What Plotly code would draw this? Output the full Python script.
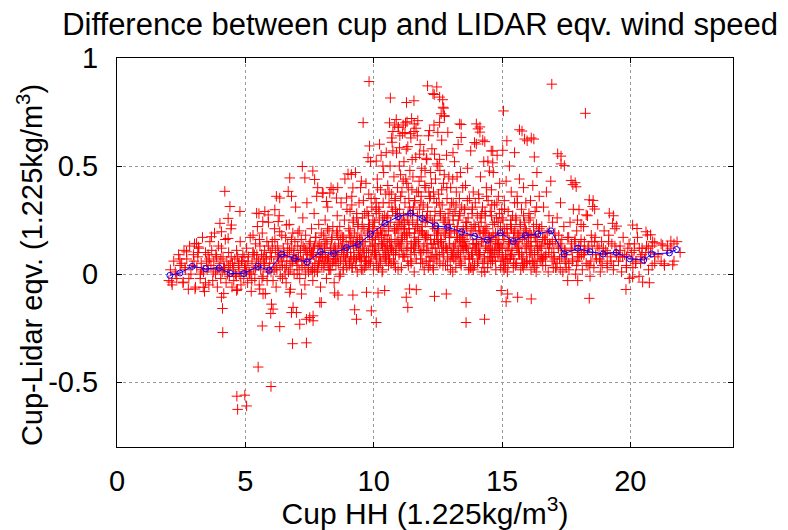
import plotly.graph_objects as go

# ---- binned mean (blue line) ----
mean_x = [2.06, 2.45, 2.93, 3.45, 3.98, 4.42, 4.94, 5.49, 5.93, 6.42, 6.91, 7.41, 7.93, 8.44, 8.94,
          9.40, 9.88, 10.44, 10.95, 11.44, 11.89, 12.42, 12.89, 13.43, 13.94, 14.43, 14.94, 15.44,
          15.91, 16.40, 16.91, 17.42, 17.95, 18.43, 18.94, 19.45, 19.97, 20.52, 20.83, 21.52, 21.80]
mean_y = [-0.006, 0.005, 0.036, 0.025, 0.028, 0.003, 0.003, 0.036, 0.017, 0.093, 0.073, 0.056, 0.104,
          0.095, 0.123, 0.137, 0.185, 0.235, 0.266, 0.282, 0.257, 0.223, 0.217, 0.195, 0.175, 0.157,
          0.191, 0.151, 0.179, 0.186, 0.200, 0.093, 0.120, 0.103, 0.093, 0.100, 0.071, 0.065, 0.093,
          0.098, 0.114]

# ---- scatter: main cloud ----
cloud_x = [
    2.02, 2.08, 2.15, 2.21, 2.27, 2.33, 2.40, 2.46,
    2.52, 2.57, 2.61, 2.66, 2.72, 2.78, 2.83, 2.88, 2.93, 2.98,
    3.02, 3.06, 3.11, 3.15, 3.19, 3.24, 3.28, 3.33, 3.37, 3.41, 3.45, 3.49,
    3.51, 3.55, 3.58, 3.62, 3.66, 3.69, 3.73, 3.77, 3.80, 3.84, 3.88, 3.91, 3.95, 3.98,
    4.01, 4.04, 4.07, 4.10, 4.13, 4.16, 4.19, 4.22, 4.25, 4.28, 4.31, 4.35, 4.38, 4.41, 4.44, 4.48,
    4.52, 4.55, 4.59, 4.62, 4.66, 4.69, 4.73, 4.76, 4.80, 4.83, 4.87, 4.90, 4.94, 4.97,
    5.02, 5.05, 5.09, 5.12, 5.16, 5.19, 5.23, 5.26, 5.30, 5.33, 5.37, 5.40, 5.44, 5.47,
    5.51, 5.54, 5.57, 5.60, 5.63, 5.66, 5.69, 5.72, 5.75, 5.78, 5.81, 5.84, 5.87, 5.90, 5.93, 5.97,
    6.02, 6.05, 6.08, 6.11, 6.14, 6.17, 6.20, 6.23, 6.26, 6.29, 6.32, 6.36, 6.39, 6.42, 6.45, 6.48,
    6.51, 6.54, 6.57, 6.59, 6.62, 6.65, 6.68, 6.71, 6.74, 6.76, 6.79, 6.82, 6.85, 6.88, 6.90, 6.93, 6.96, 6.99,
    7.01, 7.04, 7.07, 7.10, 7.12, 7.15, 7.18, 7.21, 7.24, 7.26, 7.29, 7.32, 7.35, 7.38, 7.40, 7.43, 7.46, 7.49,
    7.51, 7.53, 7.56, 7.58, 7.61, 7.63, 7.66, 7.68, 7.71, 7.73, 7.76, 7.78, 7.81, 7.83, 7.86, 7.88, 7.91, 7.93, 7.96, 7.98,
    8.01, 8.04, 8.06, 8.09, 8.11, 8.14, 8.16, 8.19, 8.21, 8.24, 8.26, 8.29, 8.31, 8.34, 8.36, 8.39, 8.41, 8.44, 8.46, 8.49,
    8.51, 8.53, 8.56, 8.58, 8.61, 8.63, 8.66, 8.68, 8.71, 8.73, 8.76, 8.78, 8.81, 8.83, 8.86, 8.88, 8.91, 8.93, 8.96, 8.98,
    9.01, 9.03, 9.06, 9.08, 9.10, 9.12, 9.15, 9.17, 9.20, 9.22, 9.24, 9.26, 9.29, 9.31, 9.34, 9.36, 9.38, 9.40, 9.43, 9.45, 9.47, 9.49,
    9.51, 9.53, 9.56, 9.58, 9.60, 9.62, 9.65, 9.67, 9.70, 9.72, 9.74, 9.76, 9.79, 9.81, 9.84, 9.86, 9.88, 9.90, 9.93, 9.95, 9.97, 9.99,
    10.01, 10.03, 10.05, 10.07, 10.10, 10.12, 10.14, 10.16, 10.18, 10.20, 10.22, 10.24, 10.27, 10.29, 10.31, 10.33, 10.35, 10.37, 10.39, 10.41, 10.43, 10.45, 10.47, 10.49,
    10.51, 10.53, 10.55, 10.57, 10.60, 10.62, 10.64, 10.66, 10.68, 10.70, 10.72, 10.74, 10.77, 10.79, 10.81, 10.83, 10.85, 10.87, 10.89, 10.91, 10.93, 10.95, 10.97, 10.99,
    11.01, 11.03, 11.05, 11.07, 11.10, 11.12, 11.14, 11.16, 11.18, 11.20, 11.22, 11.24, 11.27, 11.29, 11.31, 11.33, 11.35, 11.37, 11.39, 11.41, 11.43, 11.45, 11.47, 11.49,
    11.51, 11.53, 11.55, 11.57, 11.60, 11.62, 11.64, 11.66, 11.68, 11.70, 11.72, 11.74, 11.77, 11.79, 11.81, 11.83, 11.85, 11.87, 11.89, 11.91, 11.93, 11.95, 11.97, 11.99,
    12.01, 12.03, 12.05, 12.07, 12.10, 12.12, 12.14, 12.16, 12.18, 12.20, 12.22, 12.24, 12.27, 12.29, 12.31, 12.33, 12.35, 12.37, 12.39, 12.41, 12.43, 12.45, 12.47, 12.49,
    12.51, 12.53, 12.56, 12.58, 12.60, 12.62, 12.65, 12.67, 12.70, 12.72, 12.74, 12.76, 12.79, 12.81, 12.84, 12.86, 12.88, 12.90, 12.93, 12.95, 12.97, 12.99,
    13.01, 13.03, 13.06, 13.08, 13.10, 13.12, 13.15, 13.17, 13.20, 13.22, 13.24, 13.26, 13.29, 13.31, 13.34, 13.36, 13.38, 13.40, 13.43, 13.45, 13.47, 13.49,
    13.51, 13.53, 13.56, 13.58, 13.61, 13.63, 13.66, 13.68, 13.71, 13.73, 13.76, 13.78, 13.81, 13.83, 13.86, 13.88, 13.91, 13.93, 13.96, 13.98,
    14.01, 14.04, 14.06, 14.09, 14.11, 14.14, 14.16, 14.19, 14.21, 14.24, 14.26, 14.29, 14.31, 14.34, 14.36, 14.39, 14.41, 14.44, 14.46, 14.49,
    14.51, 14.54, 14.56, 14.59, 14.61, 14.64, 14.66, 14.69, 14.71, 14.74, 14.76, 14.79, 14.81, 14.84, 14.86, 14.89, 14.91, 14.94, 14.96, 14.99,
    15.01, 15.04, 15.06, 15.09, 15.11, 15.14, 15.16, 15.19, 15.21, 15.24, 15.26, 15.29, 15.31, 15.34, 15.36, 15.39, 15.41, 15.44, 15.46, 15.49,
    15.51, 15.54, 15.57, 15.59, 15.62, 15.65, 15.68, 15.71, 15.73, 15.76, 15.79, 15.82, 15.84, 15.87, 15.90, 15.93, 15.95, 15.98,
    16.02, 16.05, 16.08, 16.11, 16.14, 16.17, 16.20, 16.23, 16.26, 16.29, 16.32, 16.36, 16.39, 16.42, 16.45, 16.48,
    16.52, 16.55, 16.59, 16.62, 16.66, 16.69, 16.73, 16.76, 16.80, 16.83, 16.87, 16.90, 16.94, 16.97,
    17.02, 17.06, 17.11, 17.15, 17.19, 17.24, 17.28, 17.33, 17.37, 17.41, 17.45, 17.49,
    17.52, 17.56, 17.61, 17.65, 17.69, 17.74, 17.78, 17.83, 17.87, 17.91, 17.95, 17.99,
    18.03, 18.08, 18.13, 18.18, 18.23, 18.28, 18.33, 18.38, 18.43, 18.48,
    18.53, 18.58, 18.63, 18.68, 18.73, 18.78, 18.83, 18.88, 18.93, 18.98,
    19.04, 19.10, 19.16, 19.22, 19.28, 19.34, 19.40, 19.46,
    19.54, 19.60, 19.66, 19.72, 19.78, 19.84, 19.90, 19.96,
    20.04, 20.10, 20.16, 20.22, 20.28, 20.34, 20.40, 20.46,
    20.55, 20.63, 20.71, 20.79, 20.87, 20.95,
    21.08, 21.20, 21.33, 21.45,
    21.58, 21.70, 21.82, 21.94,
]
cloud_y = [
    -0.03, 0.02, -0.05, 0.06, 0.01, -0.02, 0.09, 0.04,
    0.05, -0.04, 0.11, 0.02, 0.07, -0.07, 0.13, 0.00, 0.04, 0.09,
    0.14, -0.06, 0.03, 0.08, 0.12, -0.02, 0.05, 0.17, 0.01, -0.08, 0.10, 0.06,
    0.02, 0.09, -0.05, 0.15, 0.04, 0.11, -0.03, 0.06, 0.19, 0.00, 0.08, -0.06, 0.13, 0.03,
    0.05, -0.02, 0.12, 0.01, 0.08, -0.09, 0.03, 0.16, -0.04, 0.06, 0.00, 0.10, -0.01, 0.04, 0.21, -0.06,
    0.02, -0.03, 0.07, 0.00, 0.11, -0.07, 0.04, 0.01, 0.15, -0.05, 0.06, 0.09, -0.02, 0.03,
    0.04, 0.12, -0.04, 0.08, 0.00, 0.17, -0.08, 0.05, 0.10, 0.02, -0.02, 0.14, 0.07, 0.22,
    0.06, -0.05, 0.13, 0.02, 0.09, 0.19, -0.01, 0.04, 0.11, -0.09, 0.07, 0.15, 0.01, 0.24, 0.03, 0.10,
    0.08, 0.15, -0.03, 0.05, 0.21, 0.11, -0.06, 0.02, 0.13, 0.07, 0.27, -0.01, 0.09, 0.18, 0.04, 0.12,
    0.10, 0.03, 0.17, -0.04, 0.08, 0.14, 0.01, 0.23, 0.06, -0.07, 0.12, 0.05, 0.19, 0.09, 0.00, 0.15, 0.31, 0.07,
    0.04, 0.13, 0.08, 0.20, -0.02, 0.10, 0.16, 0.03, 0.26, 0.07, 0.12, -0.05, 0.18, 0.06, 0.33, 0.09, 0.01, 0.14,
    0.07, 0.15, 0.02, 0.21, 0.10, -0.03, 0.12, 0.28, 0.05, 0.17, 0.08, 0.36, 0.01, 0.13, 0.23, 0.06, 0.10, -0.06, 0.19, 0.04,
    0.09, 0.18, 0.03, 0.12, 0.25, 0.06, -0.02, 0.14, 0.31, 0.08, 0.20, 0.02, 0.11, 0.40, 0.16, 0.05, 0.22, 0.09, -0.04, 0.13,
    0.11, 0.04, 0.19, 0.27, 0.08, 0.14, -0.01, 0.22, 0.06, 0.33, 0.12, 0.17, 0.02, 0.09, 0.25, 0.44, 0.07, 0.15, 0.30, 0.10,
    0.13, 0.21, 0.05, 0.29, 0.10, 0.17, 0.36, 0.03, 0.24, 0.12, 0.08, 0.19, 0.47, 0.14, 0.28, 0.01, 0.22, 0.09, 0.33, 0.16, 0.06, 0.40,
    0.18, 0.07, 0.26, 0.12, 0.34, 0.21, 0.03, 0.15, 0.42, 0.10, 0.29, 0.19, 0.05, 0.37, 0.23, 0.13, 0.52, 0.08, 0.31, 0.17, 0.25, 0.02,
    0.22, 0.10, 0.35, 0.16, 0.28, 0.04, 0.44, 0.19, 0.12, 0.31, 0.25, 0.08, 0.39, 0.55, 0.14, 0.21, 0.02, 0.33, 0.47, 0.18, 0.27, 0.11, 0.37, 0.06,
    0.26, 0.13, 0.41, 0.20, 0.33, 0.07, 0.50, 0.24, 0.16, 0.37, 0.61, 0.29, 0.10, 0.45, 0.21, 0.34, 0.03, 0.27, 0.56, 0.15, 0.40, 0.23, 0.68, 0.09,
    0.30, 0.14, 0.46, 0.22, 0.38, 0.65, 0.08, 0.27, 0.52, 0.18, 0.33, 0.70, 0.11, 0.42, 0.25, 0.59, 0.04, 0.35, 0.19, 0.48, 0.28, 0.63, 0.12, 0.39,
    0.28, 0.45, 0.12, 0.66, 0.34, 0.21, 0.54, 0.07, 0.38, 0.25, 0.71, 0.16, 0.43, 0.30, 0.60, 0.10, 0.36, 0.49, 0.22, 0.05, 0.32, 0.57, 0.18, 0.41,
    0.24, 0.40, 0.11, 0.53, 0.31, 0.18, 0.64, 0.06, 0.35, 0.27, 0.47, 0.14, 0.58, 0.22, 0.03, 0.38, 0.69, 0.16, 0.29, 0.44, 0.09, 0.33, 0.51, 0.20,
    0.21, 0.37, 0.09, 0.48, 0.28, 0.15, 0.62, 0.32, 0.04, 0.42, 0.19, 0.73, 0.26, 0.12, 0.55, 0.35, 0.07, 0.23, 0.45, 0.17, 0.30, 0.02,
    0.19, 0.33, 0.08, 0.44, 0.25, 0.13, 0.52, 0.29, 0.03, 0.38, 0.17, 0.22, 0.60, 0.10, 0.35, 0.27, 0.47, 0.05, 0.31, 0.15, 0.40, 0.21,
    0.16, 0.30, 0.07, 0.41, 0.22, 0.12, 0.49, 0.26, 0.02, 0.35, 0.18, 0.57, 0.09, 0.28, 0.14, 0.38, 0.23, 0.04, 0.33, 0.11,
    0.14, 0.27, 0.06, 0.37, 0.20, 0.10, 0.45, 0.24, 0.01, 0.31, 0.16, 0.52, 0.08, 0.29, 0.12, 0.40, 0.21, 0.03, 0.34, 0.18,
    0.17, 0.29, 0.05, 0.39, 0.11, 0.23, 0.47, 0.08, 0.32, 0.14, 0.02, 0.26, 0.55, 0.19, 0.36, 0.10, 0.42, 0.22, 0.06, 0.30,
    0.12, 0.25, 0.04, 0.34, 0.18, 0.09, 0.43, 0.21, 0.01, 0.29, 0.15, 0.50, 0.07, 0.23, 0.38, 0.11, 0.27, 0.03, 0.19, 0.33,
    0.14, 0.26, 0.05, 0.36, 0.19, 0.10, 0.44, 0.22, 0.02, 0.30, 0.16, 0.08, 0.40, 0.24, 0.12, 0.33, 0.20, 0.06,
    0.13, 0.25, 0.06, 0.34, 0.18, 0.09, 0.41, 0.22, 0.03, 0.29, 0.15, 0.47, 0.11, 0.20, 0.36, 0.07,
    0.12, 0.22, 0.04, 0.31, 0.16, 0.08, 0.38, 0.19, 0.01, 0.27, 0.14, 0.43, 0.10, 0.24,
    0.10, 0.19, 0.03, 0.26, 0.13, 0.07, 0.33, 0.16, 0.01, 0.22, 0.11, 0.05,
    0.09, 0.17, 0.02, 0.24, 0.12, 0.06, 0.30, 0.15, 0.00, 0.20, 0.10, 0.13,
    0.08, 0.16, 0.02, 0.22, 0.11, 0.05, 0.27, 0.13, -0.01, 0.18,
    0.10, 0.03, 0.17, 0.07, 0.23, 0.12, 0.01, 0.15, 0.09, 0.20,
    0.11, 0.05, 0.18, 0.08, 0.14, 0.02, 0.21, 0.09,
    0.06, 0.13, 0.01, 0.17, 0.09, 0.04, 0.12, -0.02,
    0.10, 0.03, 0.14, 0.06, 0.17, -0.01, 0.08, 0.12,
    0.07, 0.13, 0.02, 0.10, 0.15, 0.05,
    0.09, 0.14, 0.04, 0.11,
    0.12, 0.06, 0.15, 0.10,
]

# ---- scatter: extra points in the dense core ----
core_x = [
    7.05, 7.35, 7.62, 7.88, 8.12, 8.38, 8.62, 8.85, 9.08, 9.33,
    9.57, 9.80, 10.04, 10.26, 10.48, 10.71, 10.93, 11.15, 11.38, 11.60,
    11.83, 12.06, 12.28, 12.51, 12.73, 12.96, 13.18, 13.41, 13.64, 13.86,
    14.09, 14.32, 14.55, 14.77, 15.00, 15.23, 15.45, 15.68, 15.91, 16.14,
    16.36, 16.59, 16.82, 17.05, 17.27, 17.50, 17.73, 17.96, 18.19, 18.42,
    9.15, 9.42, 9.68, 9.94, 10.19, 10.44, 10.68, 10.95, 11.21, 11.46,
    11.72, 11.97, 12.22, 12.47, 12.72, 12.98, 13.24, 13.49, 13.74, 14.00,
    14.25, 14.50, 14.75, 15.01, 15.27, 15.52, 15.77, 16.03, 16.28, 16.53,
    8.25, 8.52, 8.78, 10.08, 10.33, 10.58, 10.83, 11.08, 11.33, 11.58,
    11.88, 12.13, 12.38, 12.63, 12.88, 13.13, 13.38, 13.63, 13.88, 14.13,
    14.38, 14.63, 14.88, 15.13, 15.38, 15.63, 15.88, 16.13, 16.38, 16.63,
    4.55, 4.85, 5.15, 5.45, 5.75, 6.05, 6.35, 6.65, 6.95, 7.25,
    7.55, 7.85, 8.15, 8.45, 8.75, 9.05, 9.35, 9.65, 9.95, 10.25,
    10.55, 10.85, 11.15, 11.45, 11.75, 12.05, 12.35, 12.65, 12.95, 13.25,
    13.55, 13.85, 14.15, 14.45, 14.75, 15.05, 15.35, 15.65, 15.95, 16.25,
    16.55, 16.85, 17.15, 17.45, 17.75, 18.05, 18.35, 18.65, 18.95, 19.25,
    4.70, 5.00, 5.30, 5.60, 5.90, 6.20, 6.50, 6.80, 7.10, 7.40,
    7.70, 8.00, 8.30, 8.60, 8.90, 9.20, 9.50, 9.80, 10.10, 10.40,
    10.70, 11.00, 11.30, 11.60, 11.90, 12.20, 12.50, 12.80, 13.10, 13.40,
    13.70, 14.00, 14.30, 14.60, 14.90, 15.20, 15.50, 15.80, 16.10, 16.40,
    16.70, 17.00, 17.30, 17.60, 17.90, 18.20, 18.50, 18.80, 19.10, 19.40,
    9.12, 9.37, 9.63, 9.88, 10.13, 10.37, 10.62, 10.87, 11.12, 11.37,
    11.62, 11.87, 12.12, 12.37, 12.62, 12.87, 13.12, 13.37, 13.62, 13.87,
    14.12, 14.37, 14.62, 14.87, 15.12, 15.37, 15.62, 15.87, 16.12, 16.37,
    10.02, 10.27, 10.52, 10.77, 11.02, 11.27, 11.52, 11.77, 12.02, 12.27,
    12.52, 12.77, 13.02, 13.27, 13.52, 13.77, 14.02, 14.27, 14.52, 14.77,
    15.02, 15.27, 15.52, 15.77, 16.02, 16.27, 16.52, 16.77, 17.02, 17.27,
    5.22, 5.52, 5.82, 6.12, 6.42, 6.72, 7.02, 7.32, 7.62, 7.92,
    8.22, 8.52, 8.82, 9.22, 9.52, 9.82, 19.60, 19.85, 20.15, 20.40,
    8.07, 8.33, 8.58, 8.84, 9.09, 9.34, 9.59, 9.84, 10.09, 10.34,
    10.59, 10.84, 11.09, 11.34, 11.59, 11.84, 12.09, 12.34, 12.59, 12.84,
    13.09, 13.34, 13.59, 13.84, 14.09, 14.34, 14.59, 14.84, 15.09, 15.34,
    15.59, 15.84, 16.09, 16.34, 16.59, 16.84, 17.09, 8.20, 8.45, 8.70,
    8.95, 9.21, 9.46, 9.71, 9.96, 10.21, 10.46, 10.71, 10.96, 11.21,
    11.46, 11.71, 11.96, 12.21, 12.46, 12.71, 12.96, 13.21, 13.46, 13.71,
    13.96, 14.21, 14.46, 14.71, 14.96, 15.21, 15.46, 15.71, 15.96, 16.21,
    16.46, 16.71, 16.96, 17.21, 17.46, 17.71, 17.96, 18.21, 18.46, 18.71,
    9.05, 9.30, 9.55, 9.80, 10.05, 10.30, 10.55, 10.80, 11.05, 11.30,
    11.55, 11.80, 12.05, 12.30, 12.55, 12.80, 13.05, 13.30, 13.55, 13.80,
    14.05, 14.30, 14.55, 14.80, 15.05, 15.30, 15.55, 15.80, 16.05, 16.30,
    10.15, 10.40, 10.65, 10.90, 11.15, 11.40, 11.65, 11.90, 12.15, 12.40,
    12.65, 12.90, 13.15, 13.40, 13.65, 13.90, 14.15, 14.40, 14.65, 14.90,
    2.30, 2.65, 3.00, 3.30, 3.60, 3.90, 4.20, 4.50, 4.80, 5.10,
    5.40, 5.70, 6.00, 6.30, 6.60, 6.90, 7.20, 7.50, 7.80, 8.10,
    2.45, 2.80, 3.15, 3.45, 3.75, 4.05, 4.35, 4.65, 4.95, 5.25,
    5.55, 5.85, 6.15, 6.45, 6.75, 7.05, 7.35, 7.65, 7.95, 18.90,
    19.15, 19.45, 19.70, 19.95, 20.20, 20.45, 20.70, 20.95, 21.20, 21.45,
    7.58, 7.83, 8.08, 8.33, 8.58, 8.83, 9.08, 9.33, 9.58, 9.83,
    10.08, 10.33, 10.58, 10.83, 11.08, 11.33, 11.58, 11.83, 12.08, 12.33,
    12.58, 12.83, 13.08, 13.33, 13.58, 13.83, 14.08, 14.33, 14.58, 14.83,
    15.08, 15.33, 15.58, 15.83, 16.08, 16.33, 16.58, 16.83, 17.08, 17.33,
    7.70, 7.95, 8.20, 8.45, 8.70, 8.95, 9.20, 9.45, 9.70, 9.95,
    10.20, 10.45, 10.70, 10.95, 11.20, 11.45, 11.70, 11.95, 12.20, 12.45,
    12.70, 12.95, 13.20, 13.45, 13.70, 13.95, 14.20, 14.45, 14.70, 14.95,
    15.20, 15.45, 15.70, 15.95, 16.20, 16.45, 16.70, 16.95, 17.20, 17.45,
    10.10, 10.35, 10.60, 10.85, 11.10, 11.35, 11.60, 11.85, 12.10, 12.35,
    12.60, 12.85, 13.10, 13.35, 13.60, 13.85, 14.10, 14.35, 14.60, 14.85,
    9.15, 9.40, 9.65, 9.90, 15.10, 15.35, 15.60, 15.85, 16.10, 16.35,
    5.05, 5.35, 5.65, 5.95, 6.25, 6.55, 6.85, 7.15, 7.45, 7.75,
    3.25, 3.55, 3.85, 4.15, 4.45, 4.75, 17.60, 17.85, 18.10, 18.35,
    18.60, 18.85, 19.10, 19.35, 19.60, 19.85, 20.10, 20.35, 20.60, 20.85,
    11.00, 11.25, 11.50, 11.75, 12.00, 12.25, 12.50, 12.75, 13.00, 13.25,
]
core_y = [
    0.06, 0.11, 0.03, 0.14, 0.08, 0.17, 0.05, 0.12, 0.20, 0.07,
    0.15, 0.10, 0.24, 0.06, 0.18, 0.13, 0.28, 0.09, 0.21, 0.15,
    0.05, 0.26, 0.12, 0.19, 0.08, 0.23, 0.14, 0.04, 0.18, 0.10,
    0.22, 0.07, 0.15, 0.11, 0.26, 0.05, 0.17, 0.09, 0.21, 0.13,
    0.04, 0.16, 0.10, 0.07, 0.14, 0.03, 0.11, 0.06, 0.09, 0.04,
    0.03, 0.11, 0.06, 0.16, 0.03, 0.12, 0.05, 0.19, 0.08, 0.14,
    0.22, 0.02, 0.16, 0.09, 0.13, 0.06, 0.20, 0.11, 0.07, 0.16,
    0.05, 0.12, 0.19, 0.08, 0.14, 0.04, 0.10, 0.17, 0.06, 0.13,
    0.02, 0.07, 0.13, 0.09, 0.14, 0.04, 0.20, 0.12, 0.06, 0.17,
    0.10, 0.03, 0.21, 0.15, 0.04, 0.11, 0.08, 0.24, 0.02, 0.09,
    0.13, 0.06, 0.16, 0.03, 0.09, 0.18, 0.05, 0.02, 0.12, 0.08,
    0.03, 0.06, 0.01, 0.09, 0.05, 0.12, 0.04, 0.10, 0.07, 0.13,
    0.09, 0.05, 0.15, 0.07, 0.11, 0.04, 0.17, 0.08, 0.13, 0.05,
    0.16, 0.09, 0.21, 0.06, 0.14, 0.18, 0.07, 0.12, 0.20, 0.09,
    0.15, 0.07, 0.19, 0.11, 0.06, 0.16, 0.09, 0.13, 0.05, 0.18,
    0.08, 0.14, 0.05, 0.11, 0.07, 0.13, 0.04, 0.09, 0.12, 0.06,
    0.08, 0.02, 0.10, 0.05, 0.13, 0.03, 0.08, 0.16, 0.02, 0.10,
    0.13, 0.08, 0.04, 0.18, 0.06, 0.14, 0.10, 0.22, 0.07, 0.15,
    0.11, 0.24, 0.15, 0.10, 0.19, 0.08, 0.15, 0.04, 0.12, 0.17,
    0.10, 0.14, 0.03, 0.17, 0.12, 0.07, 0.20, 0.04, 0.15, 0.09,
    0.16, 0.03, 0.12, 0.17, 0.04, 0.10, 0.15, 0.07, 0.03, 0.13,
    0.08, 0.15, 0.11, 0.05, 0.19, 0.09, 0.15, 0.11, 0.17, 0.23,
    0.13, 0.20, 0.10, 0.25, 0.16, 0.11, 0.07, 0.15, 0.12, 0.20,
    0.09, 0.19, 0.11, 0.14, 0.06, 0.21, 0.12, 0.17, 0.10, 0.15,
    0.14, 0.20, 0.10, 0.06, 0.13, 0.19, 0.24, 0.11, 0.17, 0.08,
    0.14, 0.24, 0.10, 0.17, 0.13, 0.03, 0.10, 0.20, 0.08, 0.16,
    0.19, 0.11, 0.15, 0.07, 0.18, 0.10, 0.06, 0.14, 0.08, 0.02,
    0.00, 0.04, 0.08, 0.02, 0.06, 0.11, 0.00, 0.04, 0.02, 0.08,
    0.05, 0.10, 0.03, 0.07, 0.02, 0.06, 0.08, 0.03, 0.11, 0.05,
    0.05, 0.12, 0.20, 0.08, 0.15, 0.26, 0.10, 0.18, 0.30, 0.13,
    0.22, 0.35, 0.16, 0.28, 0.19, 0.33, 0.25, 0.14, 0.29, 0.21,
    0.27, 0.16, 0.24, 0.31, 0.13, 0.22, 0.27, 0.09, 0.21, 0.25,
    0.15, 0.27, 0.19, 0.23, 0.17, 0.20, 0.16, 0.21, 0.06, 0.16,
    0.03, 0.25, 0.14, 0.06, 0.21, 0.29, 0.08, 0.31, 0.14, 0.24,
    0.05, 0.27, 0.13, 0.36, 0.06, 0.25, 0.14, 0.32, 0.18, 0.08,
    0.22, 0.28, 0.15, 0.24, 0.13, 0.19, 0.07, 0.23, 0.14, 0.05,
    0.21, 0.09, 0.15, 0.18, 0.06, 0.14, 0.08, 0.15, 0.06, 0.13,
    0.18, 0.04, 0.22, 0.27, 0.09, 0.18, 0.27, 0.05, 0.36, 0.18,
    0.31, 0.20, 0.06, 0.24, 0.33, 0.18, 0.09, 0.25, 0.30, 0.21,
    0.05, 0.19, 0.10, 0.33, 0.07, 0.15, 0.25, 0.05, 0.28, 0.17,
    0.40, 0.23, 0.12, 0.21, 0.43, 0.31, 0.15, 0.27, 0.38, 0.12,
    0.39, 0.28, 0.20, 0.12, 0.34, 0.14, 0.26, 0.36, 0.18, 0.28,
    0.00, 0.03, 0.06, 0.02, 0.07, 0.02, 0.02, 0.05, -0.01, 0.06,
    0.03, 0.08, 0.01, 0.10, 0.04, 0.11, 0.06, 0.12, 0.02, 0.16,
    0.07, -0.02, 0.10, -0.04, 0.01, 0.07, 0.04, -0.01, 0.08, -0.03,
    0.16, -0.03, 0.16, -0.02, 0.02, 0.19, 0.00, 0.09, 0.08, 0.04,
    0.15, 0.10, 0.08, 0.14, 0.05, 0.09, 0.12, 0.08, 0.06, 0.13,
    0.10, 0.04, 0.12, 0.02, 0.09, 0.17, 0.06, 0.13, 0.02, 0.20,
    0.11, 0.01, 0.09, 0.16, 0.03, 0.12, 0.01, 0.07, 0.14, 0.02,
    0.05, 0.12, 0.01, 0.06, 0.13, 0.03, 0.09, 0.01, 0.08, 0.14,
    0.02, 0.08, 0.12, 0.03, 0.10, 0.01, 0.07, 0.12, 0.03, 0.08,
    0.01, 0.13, 0.07, 0.12, 0.00, 0.10, 0.15, 0.08, 0.04, 0.11,
    0.17, 0.07, 0.12, 0.02, 0.21, 0.09, 0.23, 0.11, 0.04, 0.18,
    0.10, 0.17, 0.08, 0.13, 0.03, 0.12, 0.15, 0.06, 0.11, 0.03,
    0.12, 0.05, 0.17, 0.10, 0.06, 0.13, 0.04, 0.06, 0.12, 0.09,
    0.33, 0.26, 0.38, 0.30, 0.25, 0.40, 0.34, 0.45, 0.29, 0.35,
    0.27, 0.40, 0.33, 0.28, 0.22, 0.30, 0.35, 0.27, 0.32, 0.24,
    0.32, 0.23, 0.28, 0.35, 0.30, 0.22, 0.33, 0.19, 0.26, 0.31,
    0.01, 0.09, -0.02, 0.05, 0.08, 0.00, 0.06, 0.11, 0.03, 0.17,
    0.00, 0.04, 0.09, 0.03, 0.08, 0.05, 0.05, 0.16, 0.09, 0.12,
    0.15, 0.06, 0.10, 0.04, 0.11, 0.08, 0.07, 0.12, 0.10, 0.04,
    0.50, 0.44, 0.53, 0.38, 0.48, 0.42, 0.50, 0.46, 0.40, 0.45,
]

# ---- scatter: sparse points read individually ----
sparse_x = [
    9.82, 9.59, 10.65, 12.10, 12.46, 11.28, 11.57, 12.36, 12.69, 12.73, 12.75, 16.94, 15.06, 18.25,
    15.78, 15.98, 16.24, 15.19, 14.14, 14.14, 13.41, 14.33, 14.00, 17.30, 17.43, 17.85, 17.89, 18.55,
    18.61, 19.34, 19.47, 20.26, 20.79, 21.70, 15.68, 15.88, 16.14, 14.64, 15.03, 15.49, 16.26, 17.69,
    17.76, 18.40, 18.53, 19.18, 18.00, 18.28, 20.09, 20.61, 20.67, 20.85, 20.95, 21.26, 21.58, 21.32,
    21.65, 19.31, 17.94, 18.08, 17.17, 17.30,
    18.40, 19.83, 20.09, 20.48, 20.74, 16.14, 15.61, 15.16, 14.97, 15.22, 17.56, 17.95, 11.27, 11.33,
    10.10, 9.91, 9.26, 9.33, 13.60, 14.32, 13.60, 12.83, 12.37, 7.96, 8.48, 8.61, 9.19, 9.72, 10.17,
    10.43, 11.40, 11.66,
    4.12, 4.67, 4.70, 4.98, 5.05, 5.50, 6.00, 4.07, 4.11, 4.66, 3.04, 3.36, 2.58, 2.13, 5.56, 5.69,
    6.02, 6.08, 6.86, 6.99, 7.38, 7.64, 6.73, 7.19, 5.99, 5.66, 6.34, 6.84, 7.38, 7.12, 7.51, 7.64,
    6.80, 7.90,
    4.20, 4.40, 4.79, 4.33, 4.46, 4.01, 4.07, 3.68, 4.33, 3.10, 3.17, 2.71, 5.44, 5.76, 5.89, 6.15,
    6.21, 6.67, 6.80, 7.32, 7.70, 6.28, 6.60, 6.34, 5.30, 5.53, 5.68, 6.34, 6.73, 7.22, 7.63, 7.82,
    8.00, 8.29, 8.60, 9.00, 8.94,
    12.31, 12.57, 12.70, 12.63, 12.57, 13.35, 14.00, 14.06, 14.25, 13.93, 13.41, 12.18, 12.50, 12.89,
    9.84, 10.23, 10.49, 10.75, 11.01, 11.27, 11.79, 12.05, 12.37, 12.57, 13.09, 9.13, 9.52, 9.19,
    9.78, 10.10, 10.36, 14.58, 14.45, 14.64, 14.51, 8.03, 8.42, 8.16, 8.55,
    10.62, 10.75, 10.88, 11.02, 11.15, 11.30, 11.44, 11.58, 11.70, 10.70, 10.95, 11.22, 11.48, 11.65, 10.82,
]
sparse_y = [
    0.891, 0.701, 0.815, 0.871, 0.866, 0.794, 0.802, 0.831, 0.807, 0.768, 0.733, 0.879, 0.755, 0.744,
    0.662, 0.617, 0.625, 0.617, 0.681, 0.657, 0.692, 0.613, 0.602, 0.546, 0.502, 0.423, 0.404, 0.341,
    0.301, 0.270, 0.222, 0.211, 0.182, 0.140, 0.668, 0.625, 0.630, 0.570, 0.573, 0.562, 0.542, 0.433,
    0.414, 0.344, 0.313, 0.282, 0.298, 0.274, 0.227, 0.196, 0.181, 0.130, 0.145, 0.134, 0.153, 0.048,
    0.043, 0.235, 0.250, 0.230, 0.557, 0.510,
    -0.112, -0.071, -0.014, -0.037, -0.040, -0.115, -0.107, -0.128, -0.076, -0.092, -0.030, -0.030, -0.107, -0.154,
    -0.224, -0.170, -0.165, -0.209, -0.224, -0.209, -0.131, -0.092, -0.103, -0.131, -0.087, -0.097, -0.097, -0.084, -0.087,
    -0.076, -0.069, -0.072,
    -0.270, -0.565, -0.626, -0.560, -0.610, -0.430, -0.520, -0.107, -0.159, -0.076, -0.069, -0.061, -0.037, -0.037, -0.069, -0.092,
    -0.139, -0.162, -0.154, -0.178, -0.209, -0.193, -0.084, -0.092, -0.182, -0.240, -0.243, -0.322, -0.318, -0.232, -0.201, -0.216,
    -0.178, -0.131,
    0.383, 0.313, 0.290, 0.258, 0.227, 0.235, 0.196, 0.173, 0.165, 0.142, 0.126, 0.103, 0.282, 0.290, 0.274, 0.298,
    0.360, 0.383, 0.360, 0.445, 0.438, 0.243, 0.227, 0.196, 0.180, 0.280, 0.243, 0.352, 0.445, 0.498, 0.477, 0.400,
    0.375, 0.375, 0.400, 0.464, 0.352,
    0.835, 0.819, 0.772, 0.742, 0.702, 0.695, 0.695, 0.672, 0.620, 0.609, 0.632, 0.664, 0.656, 0.656,
    0.593, 0.601, 0.562, 0.570, 0.585, 0.578, 0.555, 0.536, 0.555, 0.531, 0.562, 0.461, 0.430, 0.399,
    0.539, 0.523, 0.500, 0.570, 0.523, 0.515, 0.477, 0.375, 0.391, 0.336, 0.352,
    0.700, 0.660, 0.715, 0.640, 0.690, 0.705, 0.650, 0.695, 0.640, 0.630, 0.680, 0.655, 0.720, 0.675, 0.690,
]

n1 = min(len(cloud_x), len(cloud_y))
n2 = min(len(core_x), len(core_y))
n3 = min(len(sparse_x), len(sparse_y))
all_x = cloud_x[:n1] + core_x[:n2] + sparse_x[:n3]
all_y = cloud_y[:n1] + core_y[:n2] + sparse_y[:n3]

x_ticks = [0, 5, 10, 15, 20]
y_ticks = [-0.5, 0, 0.5, 1]
y_tick_text = ["-0.5", "0", "0.5", "1"]

FONT = "Liberation Sans, Arial, sans-serif"

fig = go.Figure()
fig.add_trace(go.Scatter(
    x=all_x, y=all_y, mode="markers",
    marker=dict(symbol="cross-thin", size=7.5, color="#ff0000",
                line=dict(color="#ff0000", width=1)),
    showlegend=False, hoverinfo="skip"))
fig.add_trace(go.Scatter(
    x=mean_x, y=mean_y, mode="lines+markers",
    line=dict(color="#0000ff", width=1),
    marker=dict(symbol="circle-open", size=6, color="#0000ff",
                line=dict(color="#0000ff", width=1)),
    showlegend=False, hoverinfo="skip"))

axis_common = dict(
    showline=True, mirror="ticks", linecolor="#000000", linewidth=1,
    ticks="inside", ticklen=5, tickcolor="#000000",
    showgrid=True, gridcolor="#9a9a9a", griddash="dot", gridwidth=1,
    zeroline=False, tickfont=dict(family=FONT, size=29, color="#000000"),
)

fig.update_layout(
    width=788, height=530,
    margin=dict(l=117, r=55, t=58, b=83),
    paper_bgcolor="white", plot_bgcolor="white",
    font=dict(family=FONT, color="#000000"),
    title=dict(text="Difference between cup and LIDAR eqv. wind speed",
               x=0.492, xanchor="center", xref="paper",
               y=1, yref="paper", yanchor="bottom", pad=dict(b=23),
               font=dict(family=FONT, size=31, color="#000000")),
    xaxis=dict(range=[0, 24], tickvals=x_ticks, ticklabelstandoff=8,
               title=dict(text="Cup HH (1.225kg/m<sup>3</sup>)", standoff=0,
                          font=dict(family=FONT, size=30)),
               **axis_common),
    yaxis=dict(range=[-0.8, 1], tickvals=y_ticks, ticktext=y_tick_text,
               ticklabelstandoff=12, **axis_common),
    annotations=[dict(
        text="Cup-Lidar eqv. (1.225kg/m<sup>3</sup>)",
        textangle=-90, xref="paper", yref="paper",
        x=-0.141, y=0.468, xanchor="center", yanchor="middle",
        showarrow=False, font=dict(family=FONT, size=29, color="#000000"))],
)

fig.write_html("out.html")
